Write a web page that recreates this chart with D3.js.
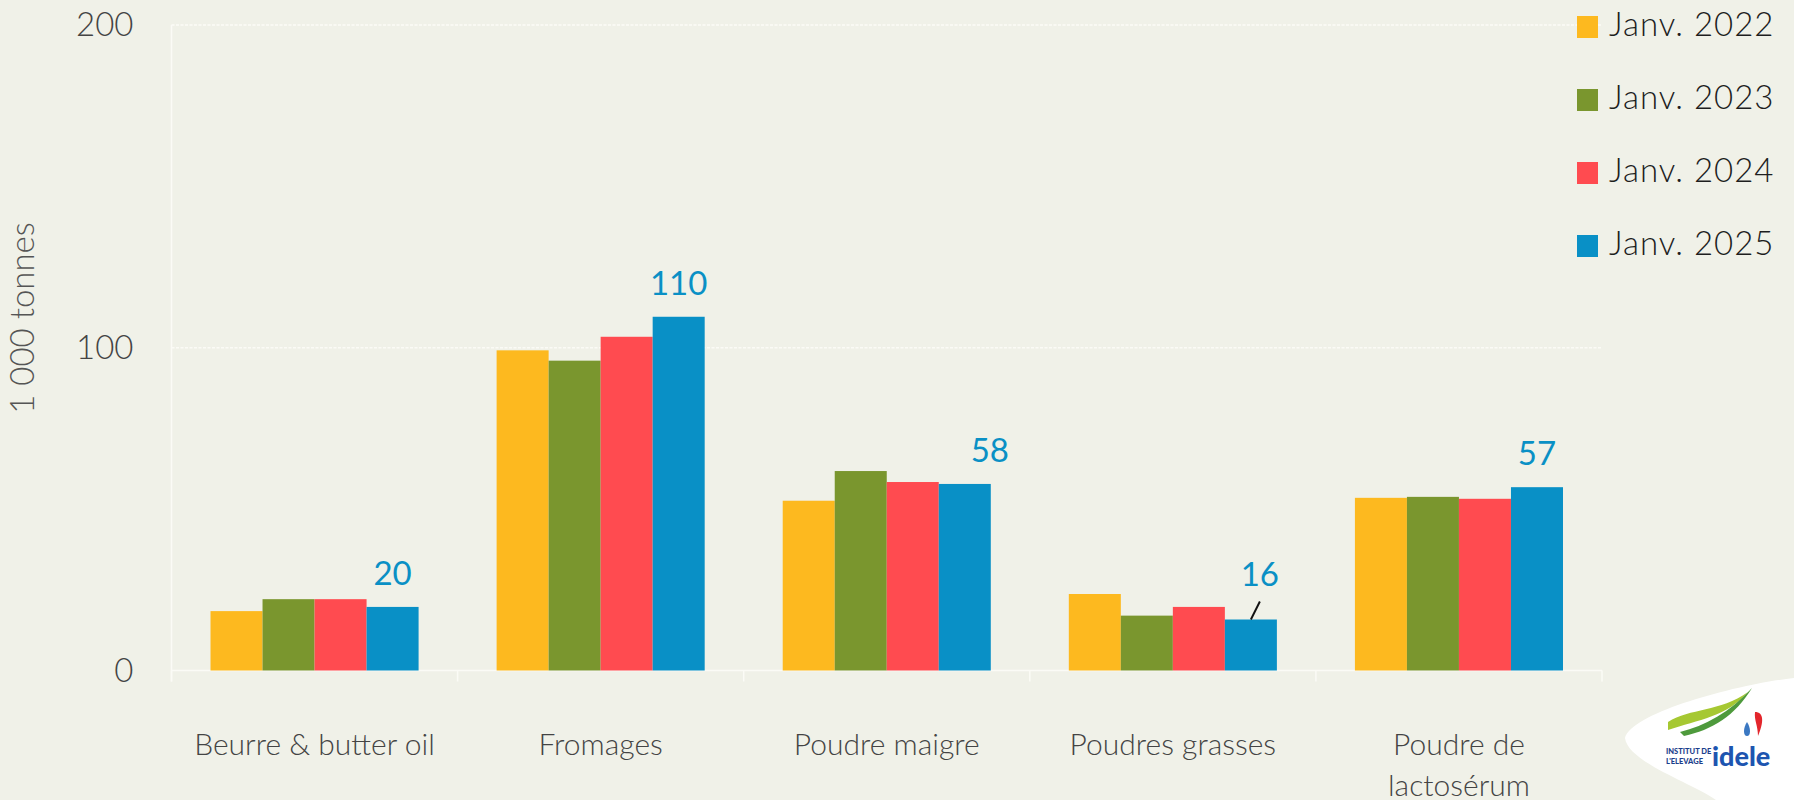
<!DOCTYPE html>
<html>
<head>
	<title></title>
	<style>
		body { margin: 0; background: #f0f1e8; }
		text { font-family: Lato, "Open Sans", sans-serif; }
	</style>
</head>
<body>

<svg id="chart" width="1794" height="800"></svg>

<script src="https://d3js.org/d3.v7.min.js"></script>
<script>
	// -------------------------------------------------------------
	// Data (1 000 tonnes)
	const categories = ['Beurre & butter oil', 'Fromages', 'Poudre maigre', 'Poudres grasses', 'Poudre de\nlactosérum']
	const series = ['Janv. 2022', 'Janv. 2023', 'Janv. 2024', 'Janv. 2025']
	const values2022 = [18.4, 99.2, 52.6, 23.7, 53.5]
	const values2023 = [22.1, 96.0, 61.8, 17.0, 53.8]
	const values2024 = [22.1, 103.4, 58.4, 19.7, 53.2]
	const values2025 = [19.7, 109.6, 57.8, 15.8, 56.8]
	const labels2025 = ['20', '110', '58', '16', '57']
	const yTicks = [0, 100, 200]

	const colors = ['#fdb91f', '#7a962e', '#ff4b50', '#0990c6']
	// label nudges for the 2025 values (last series)
	const labelDx = [0, 0, 25, 9, 0]
	const labelLeader = [false, false, false, true, false]

	// -------------------------------------------------------------
	const svg = d3.select('#chart')
	const mLeft = 171.5, mRight = 1602, mTop = 25, mBottom = 670.5

	svg.append('rect')
		.attr('width', 1794).attr('height', 800)
		.attr('fill', '#f0f1e8')

	// scales
	const x0 = d3.scaleBand()
		.domain(categories)
		.range([mLeft, mRight])
	const x1 = d3.scaleBand()
		.domain(series)
		.range([0, x0.bandwidth()])
		.paddingOuter(0.75)
	const y = d3.scaleLinear()
		.domain([0, 200])
		.range([mBottom, mTop])

	const table = categories.map((c, i) => ({
		cat: c,
		vals: [values2022[i], values2023[i], values2024[i], values2025[i]]
	}))

	// gridlines (dashed, light)
	svg.append('g')
		.selectAll('line')
		.data(yTicks.filter(t => t > 0))
		.join('line')
		.attr('x1', mLeft).attr('x2', mRight)
		.attr('y1', d => y(d)).attr('y2', d => y(d))
		.attr('stroke', '#fbfbf6')
		.attr('stroke-width', 1.5)
		.attr('stroke-dasharray', '3,1.5')

	// y axis
	const yAxis = svg.append('g')
		.attr('transform', `translate(${mLeft},0)`)
		.call(d3.axisLeft(y).tickValues(yTicks).tickSize(0).tickPadding(38))
	yAxis.select('.domain')
		.attr('d', `M0,${mTop}V${mBottom + 11}`)
		.attr('stroke', '#fbfbf6').attr('stroke-width', 1.5)
	yAxis.selectAll('text')
		.attr('font-size', 33)
		.attr('font-weight', 300)
		.attr('fill', '#444')
		.attr('font-family', 'Lato')

	// y axis title
	svg.append('text')
		.attr('transform', `translate(34,${318}) rotate(-90)`)
		.attr('text-anchor', 'middle')
		.attr('font-size', 33)
		.attr('font-weight', 300)
		.attr('fill', '#555')
		.text('1 000 tonnes')

	// x axis: baseline + ticks at category boundaries
	const xAxis = svg.append('g')
	xAxis.append('line')
		.attr('x1', mLeft).attr('x2', mRight)
		.attr('y1', mBottom).attr('y2', mBottom)
		.attr('stroke', '#fbfbf6').attr('stroke-width', 1.5)
	xAxis.selectAll('.tick')
		.data(categories.map(c => x0(c)).concat([mRight]))
		.join('line')
		.attr('x1', d => d).attr('x2', d => d)
		.attr('y1', mBottom).attr('y2', mBottom + 11)
		.attr('stroke', '#fbfbf6').attr('stroke-width', 1.5)

	// category labels
	const catText = svg.append('g')
		.selectAll('text')
		.data(categories)
		.join('text')
		.attr('x', d => x0(d) + x0.bandwidth() / 2)
		.attr('y', 755)
		.attr('text-anchor', 'middle')
		.attr('font-size', 30)
		.attr('font-weight', 300)
		.attr('fill', '#444')
	catText.each(function (d) {
		const t = d3.select(this)
		d.split('\n').forEach((line, i) => {
			t.append('tspan')
				.attr('x', x0(d) + x0.bandwidth() / 2)
				.attr('dy', i === 0 ? 0 : 41)
				.text(line)
		})
	})

	// bars
	const groups = svg.append('g')
		.selectAll('g')
		.data(table)
		.join('g')
		.attr('transform', d => `translate(${x0(d.cat)},0)`)

	groups.selectAll('rect')
		.data(d => d.vals.map((v, j) => ({ s: series[j], v: v, j: j })))
		.join('rect')
		.attr('x', d => x1(d.s))
		.attr('width', x1.bandwidth())
		.attr('y', d => y(d.v))
		.attr('height', d => y(0) - y(d.v))
		.attr('fill', d => colors[d.j])

	// data labels on the 2025 bars
	const lastSeries = series[series.length - 1]
	table.forEach((d, i) => {
		const bx = x0(d.cat) + x1(lastSeries) + x1.bandwidth() / 2
		const by = y(values2025[i])
		let ly = by - 22
		if (labelLeader[i]) {
			svg.append('line')
				.attr('x1', bx).attr('y1', by)
				.attr('x2', bx + labelDx[i]).attr('y2', by - 18)
				.attr('stroke', '#111').attr('stroke-width', 2)
			ly = by - 34
		}
		svg.append('text')
			.attr('x', bx + labelDx[i])
			.attr('y', ly)
			.attr('text-anchor', 'middle')
			.attr('font-size', 33)
			.attr('fill', '#0a90c5')
			.text(labels2025[i])
	})

	// legend
	const legend = svg.append('g')
		.selectAll('g')
		.data(series)
		.join('g')
		.attr('transform', (d, i) => `translate(1577,${16 + i * 73})`)
	legend.append('rect')
		.attr('width', 21).attr('height', 22)
		.attr('fill', (d, i) => colors[i])
	legend.append('text')
		.attr('x', 32)
		.attr('y', 20)
		.attr('font-size', 33)
		.attr('font-weight', 300)
		.attr('letter-spacing', 1)
		.attr('fill', '#1e1e1e')
		.text(d => d)

	// logo (bottom right)
	const logo = svg.append('g')
	logo.append('path')
		.attr('d', 'M1625,738 C1632,712 1740,684 1794,678 L1794,800 L1716,800 C1690,782 1628,762 1625,738 Z')
		.attr('fill', '#ffffff')
	logo.append('path')
		.attr('d', 'M1668,722 C1690,708 1720,712 1748,692 C1728,716 1698,720 1668,730 Z')
		.attr('fill', '#a6c832')
	logo.append('path')
		.attr('d', 'M1680,732 C1705,726 1730,712 1752,688 C1735,716 1712,730 1684,736 Z')
		.attr('fill', '#4e9a3c')
	logo.append('path')
		.attr('d', 'M1755,712 C1764,712 1764,722 1758,736 C1758,726 1754,720 1755,712 Z')
		.attr('fill', '#e3262c')
	logo.append('path')
		.attr('d', 'M1747,722 C1751,728 1751,736 1747,736 C1743,736 1743,728 1747,722 Z')
		.attr('fill', '#3b78c2')
	logo.append('text')
		.attr('x', 1666).attr('y', 754)
		.attr('font-size', 7.5).attr('font-weight', 900)
		.attr('fill', '#1d3f8c')
		.text('INSTITUT DE')
	logo.append('text')
		.attr('x', 1666).attr('y', 764)
		.attr('font-size', 7.5).attr('font-weight', 900)
		.attr('fill', '#1d3f8c')
		.text("L'ELEVAGE")
	logo.append('text')
		.attr('x', 1712).attr('y', 766)
		.attr('font-size', 27).attr('font-weight', 900)
		.attr('fill', '#1d55b0')
		.text('idele')
</script>
</body>
</html>
